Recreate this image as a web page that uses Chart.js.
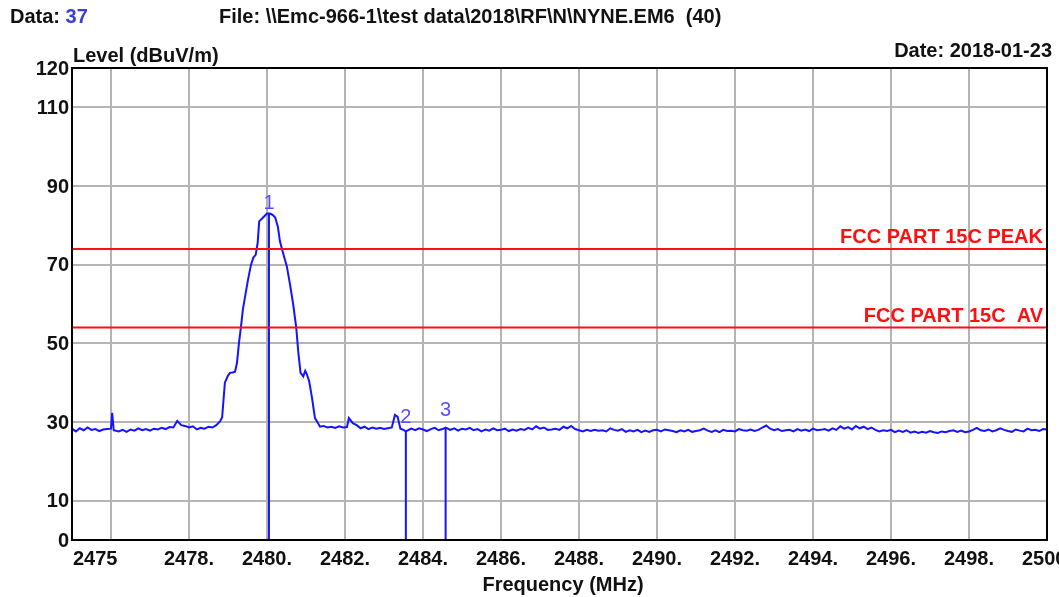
<!DOCTYPE html>
<html>
<head>
<meta charset="utf-8">
<script src="https://cdn.jsdelivr.net/npm/chart.js@4.4.1/dist/chart.umd.min.js"></script>
<style>
  html, body { margin: 0; padding: 0; background: #fff; }
  #wrap { width: 1059px; height: 597px; position: relative; }
</style>
</head>
<body>
<div id="wrap"><canvas id="emcChart"></canvas></div>
<script>
const traceFreq = [
  2475.0, 2475.1, 2475.2, 2475.3, 2475.4, 2475.5, 2475.6, 2475.7, 2475.8, 2475.9,
  2476.0, 2476.03, 2476.07, 2476.2, 2476.3, 2476.4, 2476.5, 2476.6, 2476.7, 2476.8,
  2476.9, 2477.0, 2477.1, 2477.2, 2477.3, 2477.4, 2477.5, 2477.6, 2477.7, 2477.8,
  2477.9, 2478.0, 2478.1, 2478.2, 2478.3, 2478.4, 2478.5, 2478.6, 2478.7, 2478.8,
  2478.85, 2478.92, 2479.0, 2479.05, 2479.12, 2479.18, 2479.23, 2479.28, 2479.33, 2479.38,
  2479.44, 2479.51, 2479.59, 2479.65, 2479.71, 2479.76, 2479.8, 2479.9, 2480.0, 2480.08,
  2480.15, 2480.21, 2480.28, 2480.33, 2480.41, 2480.51, 2480.59, 2480.67, 2480.75, 2480.8,
  2480.86, 2480.93, 2480.98, 2481.02, 2481.08, 2481.15, 2481.23, 2481.29, 2481.36, 2481.45,
  2481.55, 2481.65, 2481.75, 2481.85, 2481.95, 2482.05, 2482.1, 2482.2, 2482.3, 2482.4,
  2482.5, 2482.6, 2482.7, 2482.8, 2482.9, 2483.0, 2483.1, 2483.2, 2483.28, 2483.35,
  2483.42, 2483.5, 2483.56, 2483.7, 2483.8, 2483.9, 2484.0, 2484.1, 2484.2, 2484.3,
  2484.4, 2484.5, 2484.58, 2484.7, 2484.8, 2484.9, 2485.0, 2485.1, 2485.2, 2485.3,
  2485.4, 2485.5, 2485.6, 2485.7, 2485.8, 2485.9, 2486.0, 2486.1, 2486.2, 2486.3,
  2486.4, 2486.5, 2486.6, 2486.7, 2486.8, 2486.9, 2487.0, 2487.1, 2487.2, 2487.3,
  2487.4, 2487.5, 2487.6, 2487.7, 2487.8, 2487.9, 2488.0, 2488.1, 2488.2, 2488.3,
  2488.4, 2488.5, 2488.6, 2488.7, 2488.8, 2488.9, 2489.0, 2489.1, 2489.2, 2489.3,
  2489.4, 2489.5, 2489.6, 2489.7, 2489.8, 2489.9, 2490.0, 2490.1, 2490.2, 2490.3,
  2490.4, 2490.5, 2490.6, 2490.7, 2490.8, 2490.9, 2491.0, 2491.1, 2491.2, 2491.3,
  2491.4, 2491.5, 2491.6, 2491.7, 2491.8, 2491.9, 2492.0, 2492.1, 2492.2, 2492.3,
  2492.4, 2492.5, 2492.6, 2492.7, 2492.8, 2492.9, 2493.0, 2493.1, 2493.2, 2493.3,
  2493.4, 2493.5, 2493.6, 2493.7, 2493.8, 2493.9, 2494.0, 2494.1, 2494.2, 2494.3,
  2494.4, 2494.5, 2494.6, 2494.7, 2494.8, 2494.9, 2495.0, 2495.1, 2495.2, 2495.3,
  2495.4, 2495.5, 2495.6, 2495.7, 2495.8, 2495.9, 2496.0, 2496.1, 2496.2, 2496.3,
  2496.4, 2496.5, 2496.6, 2496.7, 2496.8, 2496.9, 2497.0, 2497.1, 2497.2, 2497.3,
  2497.4, 2497.5, 2497.6, 2497.7, 2497.8, 2497.9, 2498.0, 2498.1, 2498.2, 2498.3,
  2498.4, 2498.5, 2498.6, 2498.7, 2498.8, 2498.9, 2499.0, 2499.1, 2499.2, 2499.3,
  2499.4, 2499.5, 2499.6, 2499.7, 2499.8, 2499.9, 2500.0
];
const traceLevel = [
  28.3, 27.6, 28.4, 27.9, 28.6, 28.0, 28.2, 27.7, 28.1, 28.2,
  28.3, 32.3, 27.9, 27.6, 28.0, 27.5, 28.1, 27.8, 28.4, 27.9,
  28.2, 27.8, 28.3, 28.1, 28.5, 28.2, 28.7, 28.6, 30.3, 29.2,
  29.0, 28.6, 28.9, 28.1, 28.5, 28.3, 28.8, 28.6, 29.2, 30.2,
  31.2, 40.0, 41.8, 42.5, 42.6, 42.8, 45.0, 50.0, 54.0, 58.5,
  62.0, 66.0, 70.0, 71.8, 72.5, 75.5, 81.0, 82.0, 83.0, 83.0,
  82.6, 82.0, 79.6, 76.0, 73.0, 69.5, 65.0, 60.0, 54.0, 48.0,
  42.5, 41.6, 43.0, 42.2, 40.4, 36.4, 31.0, 30.0, 28.8, 29.0,
  28.6, 28.8, 28.5, 28.9, 28.6, 28.7, 31.0, 29.7, 29.2, 28.4,
  28.8, 28.2, 28.6, 28.3, 28.5, 28.2, 28.4, 28.6, 31.8, 31.3,
  28.3, 28.0, 27.6, 28.3, 27.9, 28.4, 28.1, 27.7, 28.2, 28.5,
  27.9, 28.2, 28.6, 28.0, 28.4, 27.8, 28.3, 28.1, 28.5, 27.9,
  28.2, 27.6, 28.1, 27.8, 28.4, 27.9, 28.0, 28.3, 27.7, 28.1,
  27.8, 28.2, 28.0, 28.5, 28.1, 28.9, 28.3, 28.6, 28.0, 28.1,
  28.3, 28.0, 28.8, 28.4, 29.0, 28.2, 27.9, 27.6, 28.0, 27.7,
  28.0, 27.8, 27.9, 27.6, 28.4, 28.0, 27.8, 28.2, 27.5, 27.9,
  27.6, 28.0, 27.4, 27.8, 27.5, 27.9, 28.0, 27.6, 28.1, 27.9,
  27.7, 27.4, 27.9, 27.6, 28.0, 27.5, 27.7, 27.9, 28.3, 27.8,
  27.5, 27.9, 27.4, 28.0, 27.7, 27.8, 27.6, 28.2, 27.9, 27.8,
  28.1, 27.7, 28.0, 28.6, 29.1, 28.3, 27.9, 28.2, 27.7, 27.9,
  28.0, 27.6, 28.2, 27.8, 28.1, 27.7, 28.3, 27.9, 28.0, 28.2,
  27.8, 28.4, 28.0, 28.9, 28.3, 28.7, 28.1, 29.0, 28.4, 28.8,
  28.2, 28.6, 28.0, 27.6, 27.9, 27.7, 28.0, 27.4, 27.8, 27.5,
  27.9, 27.3, 27.6, 27.2, 27.5, 27.3, 27.7, 27.4, 27.2, 27.6,
  27.4, 27.7, 27.9, 27.5, 27.8, 27.4, 27.6, 28.0, 28.5, 27.9,
  27.7, 28.1, 27.6, 27.9, 28.4, 28.0, 27.7, 27.5, 28.1, 27.8,
  27.6, 28.3, 27.9, 28.0, 27.7, 28.2, 28.1
];

// Limit lines
const limitNames = ["FCC PART 15C PEAK", "FCC PART 15C  AV"];
const limitLevels = [74, 54];

// Markers
const markerNames = ["1", "2", "3"];
const markerFreq = [2480.05, 2483.56, 2484.58];
const markerLevel = [83.0, 27.6, 28.6];

// Axes
const xRange = [2475, 2500];
const yRange = [0, 120];
const xGridValues = [2475, 2476, 2478, 2480, 2482, 2484, 2486, 2488, 2490, 2492, 2494, 2496, 2498, 2500];
const xLabelValues = [2475, 2478, 2480, 2482, 2484, 2486, 2488, 2490, 2492, 2494, 2496, 2498, 2500];
const xLabelTexts = ["2475", "2478.", "2480.", "2482.", "2484.", "2486.", "2488.", "2490.", "2492.", "2494.", "2496.", "2498.", "2500."];
const yGridValues = [0, 10, 30, 50, 70, 90, 110, 120];
const yLabelTexts = ["0", "10", "30", "50", "70", "90", "110", "120"];

// Header texts
const dataCount = "37";
const fileText = "File: \\\\Emc-966-1\\test data\\2018\\RF\\N\\NYNE.EM6  (40)";
const dateText = "Date: 2018-01-23";
const yTitle = "Level (dBuV/m)";
const xTitle = "Frequency (MHz)";

const FONT = '"Liberation Sans", Arial, sans-serif';
const BLUE = "#1414ff";
const RED = "#ff1010";

function pairs(xs, ys) {
  return xs.map((x, i) => ({ x: x, y: ys[i] }));
}

const datasets = [];

limitLevels.forEach((lv) => {
  datasets.push({
    data: [{ x: xRange[0], y: lv }, { x: xRange[1], y: lv }],
    borderColor: RED,
    borderWidth: 2,
  });
});

markerFreq.forEach((f, i) => {
  datasets.push({
    data: [{ x: f, y: 0 }, { x: f, y: markerLevel[i] }],
    borderColor: BLUE,
    borderWidth: 2,
  });
});

datasets.push({
  data: pairs(traceFreq, traceLevel),
  borderColor: BLUE,
  borderWidth: 2,
});

/**
 * Frame, tick labels, titles and annotations drawn on top of the chart
 */
const textPlugin = {
  id: "emcText",
  afterDraw(chart) {
    const ctx = chart.ctx;
    const area = chart.chartArea;
    const xs = chart.scales.x;
    const ys = chart.scales.y;
    ctx.save();

    // plot frame
    ctx.strokeStyle = "#000";
    ctx.lineWidth = 2;
    ctx.strokeRect(area.left, area.top, area.right - area.left, area.bottom - area.top);

    ctx.fillStyle = "#111";
    ctx.font = "bold 20px " + FONT;

    // y tick labels
    ctx.textAlign = "right";
    ctx.textBaseline = "middle";
    yGridValues.forEach((v, i) => {
      ctx.fillText(yLabelTexts[i], area.left - 3, ys.getPixelForValue(v) + 1);
    });

    // x tick labels
    ctx.textBaseline = "alphabetic";
    xLabelValues.forEach((v, i) => {
      ctx.textAlign = i === 0 ? "left" : "center";
      ctx.fillText(xLabelTexts[i], xs.getPixelForValue(v) + (i === 0 ? 1 : 0), area.bottom + 25);
    });

    // axis titles
    ctx.textAlign = "left";
    ctx.fillText(yTitle, area.left + 1, area.top - 6);
    ctx.textAlign = "center";
    ctx.fillText(xTitle, 563, area.bottom + 51);

    // header
    ctx.textAlign = "left";
    ctx.fillText("Data: ", 10, 23);
    const w = ctx.measureText("Data: ").width;
    ctx.fillStyle = "#3b3be0";
    ctx.fillText(dataCount, 10 + w, 23);
    ctx.fillStyle = "#111";
    ctx.fillText(fileText, 219, 23);
    ctx.textAlign = "right";
    ctx.fillText(dateText, 1052, 57);

    // limit line names
    ctx.fillStyle = RED;
    ctx.textAlign = "right";
    limitLevels.forEach((lv, i) => {
      ctx.fillText(limitNames[i], area.right - 4, ys.getPixelForValue(lv) - 6);
    });

    // marker numbers
    const lift = [5, 8, 12];
    ctx.fillStyle = "#5a4cff";
    ctx.font = "20px " + FONT;
    ctx.textAlign = "center";
    markerFreq.forEach((f, i) => {
      ctx.fillText(markerNames[i], xs.getPixelForValue(f), ys.getPixelForValue(markerLevel[i]) - lift[i]);
    });

    ctx.restore();
  },
};

new Chart(document.getElementById("emcChart").getContext("2d"), {
  type: "scatter",
  data: { datasets: datasets },
  options: {
    responsive: true,
    maintainAspectRatio: false,
    animation: false,
    showLine: true,
    layout: { padding: { left: 72, top: 68, right: 12, bottom: 57 } },
    elements: {
      point: { radius: 0, hoverRadius: 0 },
      line: { tension: 0, fill: false },
    },
    plugins: {
      legend: { display: false },
      tooltip: { enabled: false },
    },
    scales: {
      x: {
        type: "linear",
        min: xRange[0],
        max: xRange[1],
        afterBuildTicks: (scale) => {
          scale.ticks = xGridValues.map((v) => ({ value: v }));
        },
        ticks: { display: false },
        grid: { color: "#b4b4b4", lineWidth: 2, drawTicks: false },
        border: { display: false },
      },
      y: {
        type: "linear",
        min: yRange[0],
        max: yRange[1],
        afterBuildTicks: (scale) => {
          scale.ticks = yGridValues.map((v) => ({ value: v }));
        },
        ticks: { display: false },
        grid: { color: "#b4b4b4", lineWidth: 2, drawTicks: false },
        border: { display: false },
      },
    },
  },
  plugins: [textPlugin],
});
</script>
</body>
</html>
